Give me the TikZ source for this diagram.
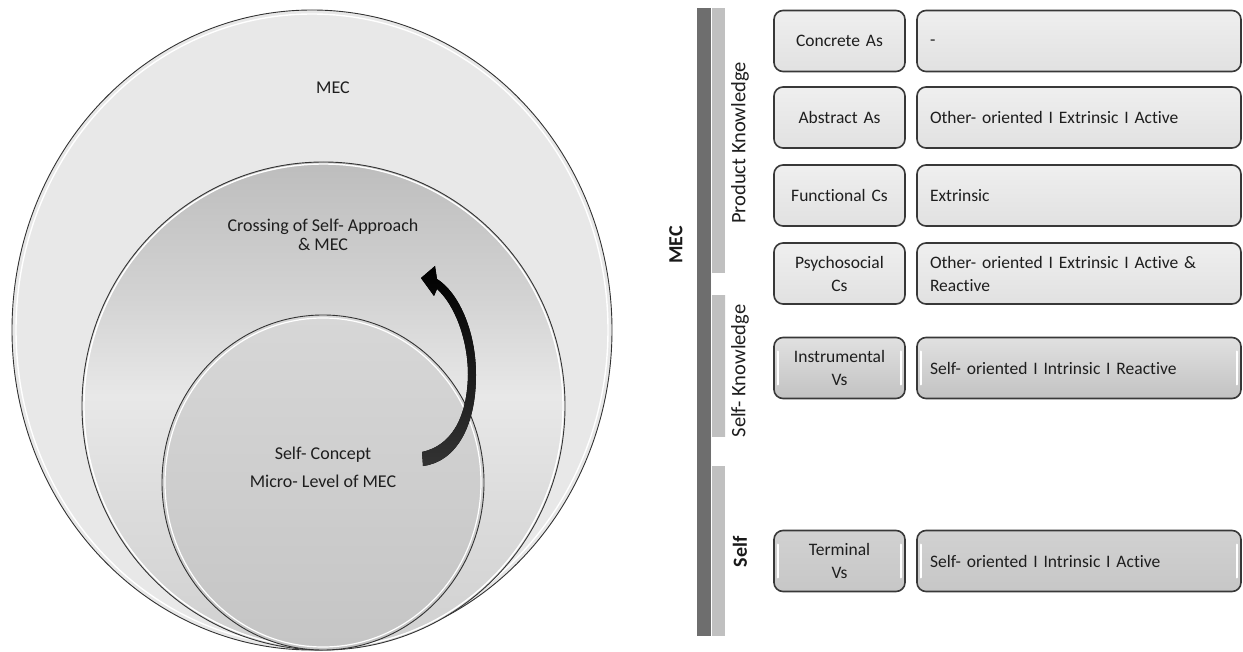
\documentclass[tikz,border=0pt]{standalone}
\usepackage{fontspec}
\setmainfont{Carlito}[Ligatures=NoCommon]
\usetikzlibrary{shapes.geometric}
\definecolor{txt}{HTML}{1E1E1E}
\definecolor{rim}{HTML}{333333}
\definecolor{outerfill}{HTML}{E8E8E8}
\definecolor{mA}{HTML}{D0D0D0}
\definecolor{mB}{HTML}{DCDCDC}
\definecolor{mC}{HTML}{E8E8E8}
\definecolor{mD}{HTML}{D3D3D3}
\definecolor{mE}{HTML}{BDBDBD}
\definecolor{innerfill}{HTML}{CDCDCD}
\definecolor{boxborder}{HTML}{383838}
\definecolor{boxlight}{HTML}{E8E8E8}
\definecolor{bardark}{HTML}{6E6E6E}
\definecolor{barlight}{HTML}{C0C0C0}
\pgfdeclareverticalshading{midshade}{100bp}{color(0bp)=(mA); color(25bp)=(mA); color(40bp)=(mB); color(51bp)=(mC); color(61bp)=(mD); color(75bp)=(mE); color(100bp)=(mE)}
\begin{document}
\begin{tikzpicture}[x=1pt,y=-1pt,
  circ/.style={ellipse, draw=rim, line width=0.9pt, inner sep=0pt, outer sep=0pt},
  ctext/.style={font=\fontsize{18}{20}\selectfont, text=txt, align=center},
  boxbase/.style={draw=boxborder, line width=1.6pt, rounded corners=9pt, minimum height=61pt, inner sep=0pt, text=txt, font=\fontsize{17.5}{23}\selectfont},
  lbox/.style={boxbase, minimum width=131pt, text width=125pt, align=center},
  rbox/.style={boxbase, minimum width=324pt, text width=298pt, align=left},
  pale/.style={top color=boxlight!70!white, bottom color=boxlight!97!black},
  shine/.style={path picture={
     \draw[white, line width=2pt, line cap=round] ([xshift=4pt,yshift=-14pt]path picture bounding box.north west) -- ([xshift=4pt,yshift=14pt]path picture bounding box.south west);
     \draw[white, line width=2pt, line cap=round] ([xshift=-4pt,yshift=-14pt]path picture bounding box.north east) -- ([xshift=-4pt,yshift=14pt]path picture bounding box.south east);}},
  grey/.style={top color=black!12, bottom color=black!24, shine},
  grey2/.style={top color=black!18, bottom color=black!22, shine},
  vlabel/.style={rotate=90, text=txt, font=\fontsize{20.5}{22}\selectfont},
  vbold/.style={rotate=90, text=black!90, font=\fontsize{20}{22}\selectfont\bfseries}
]
\useasboundingbox[fill=white] (0,0) rectangle (1243,652);

% ---- nested circles ----
\node[circ, fill=outerfill, minimum width=600pt, minimum height=640pt] (outer) at (312,330) {};
\draw[white, line width=1.4pt] (312,330) ellipse [x radius=296pt, y radius=316pt];
\node[circ, shading=midshade, minimum width=483pt, minimum height=488pt] (middle) at (323.5,406) {};
\draw[white, line width=1.4pt] (323.5,406) ellipse [x radius=479pt/2, y radius=484pt/2];
\node[circ, top color=innerfill!80!white, bottom color=innerfill!96!black, minimum width=322pt, minimum height=335pt] (inner) at (323,482.5) {};
\draw[white, line width=1.2pt] (323,482.5) ellipse [x radius=158pt, y radius=164.5pt];

\node[ctext] (tmec) at (333,88) {MEC};
\node[ctext] (tcross) at (323,235) {Crossing of Self- Approach\\[-1pt]\& MEC};
\node[ctext] (tself) at (323,455) {Self- Concept};
\node[ctext] (tmicro) at (323,481) {Micro- Level of MEC};

% ---- curved arrow ----
\fill[top color=black, bottom color=black!80] (422,452) .. controls (450,446) and (467,420) .. (468,375)
  .. controls (468,340) and (455,305) .. (437,289) -- (434,296) -- (421,278) -- (435,266) -- (437,279)
  .. controls (458,292) and (476,330) .. (476,375)
  .. controls (476,428) and (455,462) .. (423,466) -- cycle;

% ---- bars ----
\fill[bardark] (697,8) rectangle (711,636);
\fill[barlight] (712,8) rectangle (725,273);
\shade[top color=barlight, middle color=white!92!black, bottom color=barlight] (712,296) rectangle (725,436);
\fill[barlight] (712,466) rectangle (725,636);

\node[vbold] (lmec) at (676,245) {MEC};
\node[vlabel] (lpk) at (740,143) {Product Knowledge};
\node[vlabel] (lsk) at (740,371) {Self- Knowledge};
\node[vbold] (lself) at (740,552) {Self};

% ---- boxes ----
\node[lbox, pale] (a1) at (839.5,41) {Concrete As};
\node[rbox, pale] (b1) at (1079,41) {\vphantom{Ag}-};
\node[lbox, pale] (a2) at (839.5,117.5) {Abstract As};
\node[rbox, pale] (b2) at (1079,117.5) {Other- oriented I Extrinsic I Active};
\node[lbox, pale] (a3) at (839.5,195.5) {Functional Cs};
\node[rbox, pale] (b3) at (1079,195.5) {Extrinsic};
\node[lbox, pale] (a4) at (839.5,273.5) {Psychosocial\\Cs};
\node[rbox, pale] (b4) at (1079,273.5) {Other- oriented I Extrinsic I Active \&\\Reactive};
\node[lbox, grey] (a5) at (839.5,368) {Instrumental\\Vs};
\node[rbox, grey] (b5) at (1079,368) {Self- oriented I Intrinsic I Reactive};
\node[lbox, grey2] (a6) at (839.5,561) {Terminal\\Vs};
\node[rbox, grey2] (b6) at (1079,561) {Self- oriented I Intrinsic I Active};
\end{tikzpicture}
\end{document}
